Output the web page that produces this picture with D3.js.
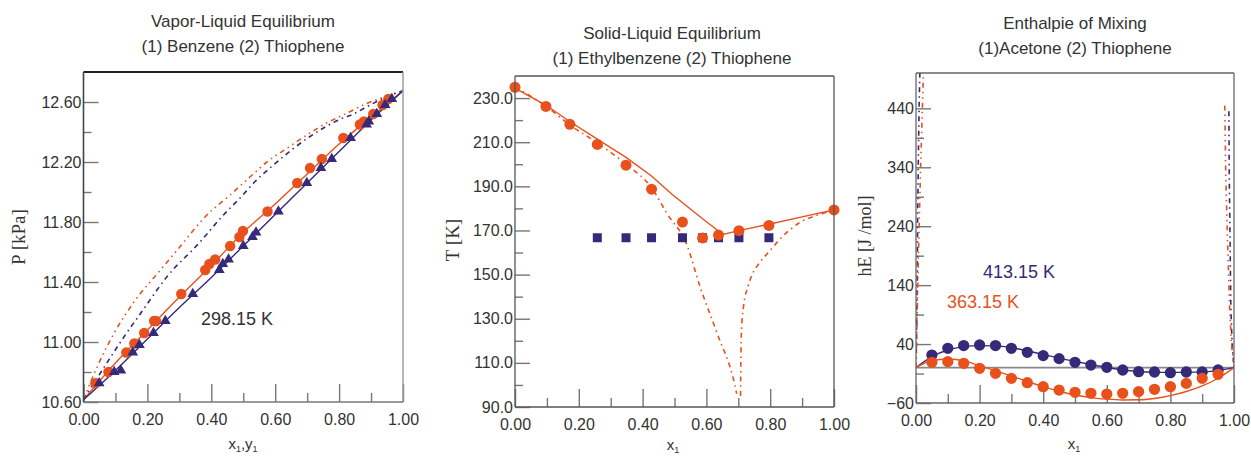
<!DOCTYPE html>
<html>
<head>
    <meta charset="utf-8">
    <title>Thiophene mixtures: VLE, SLE and hE</title>
    <script src="https://d3js.org/d3.v7.min.js"></script>
    <style>
        body { margin: 0; background: #fff; }
        text { font-family: "Liberation Sans", Arial, sans-serif; fill: #333; }
        .serif { font-family: "Liberation Serif", "Times New Roman", serif; }
    </style>
</head>
<body>
    <div id="chart"></div>
    <script>

        var orange = "#e8501c";
        var blue = "#35297a";

        // ---- panel 1: VLE benzene / thiophene at 298.15 K
        var vleX = [0.037, 0.078, 0.134, 0.159, 0.190, 0.221, 0.227, 0.306, 0.381, 0.394, 0.412, 0.459, 0.488, 0.499, 0.576, 0.669, 0.709, 0.746, 0.813, 0.865, 0.878, 0.907, 0.936, 0.954];
        var vleXP = [10.725, 10.80, 10.93, 10.99, 11.06, 11.14, 11.14, 11.32, 11.48, 11.52, 11.55, 11.64, 11.70, 11.74, 11.87, 12.06, 12.16, 12.22, 12.36, 12.45, 12.47, 12.52, 12.58, 12.62];
        var vleY = [0.049, 0.096, 0.117, 0.154, 0.175, 0.219, 0.256, 0.342, 0.425, 0.436, 0.454, 0.500, 0.529, 0.540, 0.610, 0.699, 0.743, 0.777, 0.836, 0.886, 0.893, 0.918, 0.944, 0.965];
        var vleYP = [10.725, 10.80, 10.81, 10.93, 10.98, 11.06, 11.14, 11.32, 11.48, 11.52, 11.55, 11.64, 11.70, 11.73, 11.87, 12.06, 12.16, 12.22, 12.36, 12.45, 12.47, 12.52, 12.58, 12.62];

        var fitGrid = [0, 0.1, 0.2, 0.3, 0.4, 0.5, 0.6, 0.7, 0.8, 0.9, 1];
        var fitXP = [10.615, 10.86, 11.08, 11.30, 11.51, 11.73, 11.92, 12.12, 12.32, 12.50, 12.675];
        var fitYP = [10.615, 10.81, 11.02, 11.23, 11.43, 11.64, 11.85, 12.06, 12.27, 12.48, 12.675];

        var predOrX = [0, 0.044, 0.096, 0.159, 0.237, 0.30, 0.381, 0.464, 0.521, 0.574, 0.636, 0.699, 0.761, 0.824, 0.886, 0.944, 1];
        var predOrP = [10.615, 10.84, 11.06, 11.27, 11.47, 11.63, 11.835, 11.99, 12.10, 12.20, 12.29, 12.38, 12.46, 12.525, 12.59, 12.635, 12.675];
        var predBlX = [0, 0.070, 0.127, 0.185, 0.263, 0.362, 0.438, 0.49, 0.537, 0.589, 0.709, 0.798, 0.845, 0.897, 0.949, 1];
        var predBlP = [10.615, 10.85, 11.035, 11.21, 11.44, 11.66, 11.847, 11.96, 12.07, 12.17, 12.37, 12.48, 12.52, 12.58, 12.635, 12.675];

        // ---- panel 2: SLE ethylbenzene / thiophene
        var sleX = [0, 0.097, 0.172, 0.258, 0.348, 0.428, 0.525, 0.588, 0.638, 0.702, 0.796, 1];
        var sleT = [234.9, 226.2, 218.1, 209, 199.6, 188.7, 173.8, 166.6, 167.9, 169.9, 172.3, 179.3];
        var solidX = [0.258, 0.348, 0.428, 0.525, 0.588, 0.638, 0.702, 0.796];
        var solidT = [166.7, 166.7, 166.7, 166.7, 166.7, 166.7, 166.7, 166.7];

        var liqX = [0, 0.1, 0.17, 0.258, 0.348, 0.428, 0.492, 0.59, 0.652, 0.702, 0.796, 0.903, 1];
        var liqT = [234.5, 226.5, 219.5, 211.4, 203.1, 194.7, 186.4, 175.1, 168.2, 169.9, 172.8, 176.3, 179.3];
        var idealLX = [0, 0.1, 0.17, 0.26, 0.348, 0.43, 0.475, 0.54, 0.579, 0.632, 0.689, 0.695];
        var idealLT = [235, 226, 218, 209.5, 200, 189, 178, 163, 145, 124, 100, 96];
        var idealRX = [0.707, 0.708, 0.710, 0.716, 0.731, 0.745, 0.767, 0.80, 0.825, 0.893, 0.95, 1];
        var idealRT = [95, 110, 125, 135, 145, 150.5, 155.4, 161, 165.2, 173.6, 177, 179.3];

        // ---- panel 3: hE acetone / thiophene
        var hX = [0.05, 0.10, 0.15, 0.20, 0.25, 0.30, 0.35, 0.40, 0.45, 0.50, 0.55, 0.60, 0.65, 0.70, 0.75, 0.80, 0.85, 0.90, 0.95];
        var h413 = [21.4, 32.8, 37.4, 38.4, 37.4, 32.8, 26, 20.4, 15.3, 9, 4.4, 0.5, -4, -6.8, -7.4, -8.5, -7.4, -7.4, -4];
        var h363 = [9, 10.2, 7.3, -1.2, -9.7, -18.2, -25.5, -32.3, -38, -41.9, -43.6, -44.8, -43.6, -40.7, -36.8, -32.3, -26.7, -18.2, -11.4];

        var hFitX = [0, 0.05, 0.1, 0.15, 0.2, 0.25, 0.3, 0.35, 0.4, 0.45, 0.5, 0.55, 0.6, 0.65, 0.7, 0.75, 0.8, 0.85, 0.9, 0.95, 1];
        var hFit413 = [0, 18.7, 29.9, 35.6, 37.4, 37, 34, 28.6, 22.4, 16.2, 10.6, 5.3, 0.2, -4, -6.5, -7.7, -8, -8, -7.2, -5, 0];
        var hFit363 = [0, 12, 14.7, 11.8, 3, -5.2, -14.2, -23.5, -32.2, -40, -46.5, -50.8, -53.5, -54.8, -54.6, -52.3, -47.5, -40.5, -31, -18, 0];

        var spikeBlLX = [0, 0.002, 0.004, 0.005, 0.008, 0.010, 0.0126];
        var spikeBlLV = [0, 60, 150, 250, 380, 450, 510];
        var spikeOrLX = [0, 0.003, 0.006, 0.009, 0.014, 0.020, 0.024];
        var spikeOrLV = [0, 60, 150, 220, 330, 440, 510];
        var spikeBlRX = [0.984, 0.985, 0.987, 0.990, 0.994, 1];
        var spikeBlRV = [435, 330, 245, 104, 40, 0];
        var spikeOrRX = [0.971, 0.974, 0.978, 0.986, 0.992, 1];
        var spikeOrRV = [445, 330, 245, 104, 40, 0];

        // ticks
        var xMajor = [0, 0.2, 0.4, 0.6, 0.8, 1.0];
        var xMinor = [0.1, 0.3, 0.5, 0.7, 0.9];
        var pMajor = [10.6, 11.0, 11.4, 11.8, 12.2, 12.6];
        var pMinor = [10.8, 11.2, 11.6, 12.0, 12.4];
        var tMajor = [90, 110, 130, 150, 170, 190, 210, 230];
        var tMinor = [100, 120, 140, 160, 180, 200, 220];
        var hMajor = [-60, 40, 140, 240, 340, 440];
        var hMinor = [-10, 90, 190, 290, 390];

        var svg = d3.select("#chart")
            .append("svg")
            .attr("width", 1251)
            .attr("height", 458);

        function zip(a, b) {
            return a.map(function(v, i) { return [v, b[i]]; });
        }

        function panel(box, yDomain, yMajor, yMinor, yFmt, id) {
            var x = d3.scaleLinear().domain([0, 1]).range([box.left, box.right]);
            var y = d3.scaleLinear().domain(yDomain).range([box.bottom, box.top]);

            svg.append("clipPath").attr("id", id)
                .append("rect")
                .attr("x", box.left).attr("y", box.top)
                .attr("width", box.right - box.left).attr("height", box.bottom - box.top);

            svg.append("g")
                .attr("transform", "translate(0," + box.bottom + ")")
                .call(d3.axisBottom(x).tickValues(xMajor).tickSize(-18).tickPadding(12).tickFormat(d3.format(".2f")));
            svg.append("g")
                .attr("transform", "translate(0," + box.bottom + ")")
                .call(d3.axisBottom(x).tickValues(xMinor).tickSize(-9).tickFormat(""));
            svg.append("g")
                .attr("transform", "translate(" + box.left + ",0)")
                .call(d3.axisLeft(y).tickValues(yMajor).tickSize(-15).tickPadding(2).tickFormat(d3.format(yFmt)));
            svg.append("g")
                .attr("transform", "translate(" + box.left + ",0)")
                .call(d3.axisLeft(y).tickValues(yMinor).tickSize(-8).tickFormat(""));

            svg.selectAll(".domain").remove();
            svg.selectAll(".tick line").attr("stroke", "#777").attr("stroke-width", 1.4);
            svg.selectAll(".tick text").style("font-size", "16px").attr("fill", "#333");

            var g = svg.append("g").attr("clip-path", "url(#" + id + ")");
            return { x: x, y: y, g: g };
        }

        function frame(box, colors, widths) {
            var sides = [
                [box.left, box.top, box.right, box.top],
                [box.right, box.top, box.right, box.bottom],
                [box.left, box.bottom, box.right, box.bottom],
                [box.left, box.top, box.left, box.bottom]
            ];
            sides.forEach(function(s, i) {
                svg.append("line")
                    .attr("x1", s[0]).attr("y1", s[1]).attr("x2", s[2]).attr("y2", s[3])
                    .attr("stroke", colors[i]).attr("stroke-width", widths[i]);
            });
        }

        function drawLine(p, xs, ys, color, dash, curve) {
            var line = d3.line()
                .x(function(d) { return p.x(d[0]); })
                .y(function(d) { return p.y(d[1]); })
                .curve(curve || d3.curveMonotoneX);
            p.g.append("path")
                .datum(zip(xs, ys))
                .attr("d", line)
                .attr("fill", "none")
                .attr("stroke", color)
                .attr("stroke-width", dash ? 1.6 : 1.4)
                .attr("stroke-dasharray", dash || null);
        }

        function drawMarks(p, xs, ys, color, type, size) {
            svg.append("g").selectAll("path")
                .data(zip(xs, ys))
                .join("path")
                .attr("transform", function(d) { return "translate(" + p.x(d[0]) + "," + p.y(d[1]) + ")"; })
                .attr("d", d3.symbol().type(type).size(size))
                .attr("fill", color);
        }

        function title(cx, y, lines) {
            lines.forEach(function(t, i) {
                svg.append("text")
                    .attr("x", cx).attr("y", y + i * 25)
                    .attr("text-anchor", "middle")
                    .style("font-size", "17px")
                    .text(t);
            });
        }

        function yTitle(x, y, label, size) {
            svg.append("text")
                .attr("class", "serif")
                .attr("transform", "translate(" + x + "," + y + ") rotate(-90)")
                .attr("text-anchor", "middle")
                .style("font-size", size + "px")
                .text(label);
        }

        function xTitle(cx, y, both) {
            var t = svg.append("text")
                .attr("x", cx).attr("y", y)
                .attr("text-anchor", "middle")
                .style("font-size", "15px");
            t.append("tspan").text("x");
            t.append("tspan").attr("dy", 3).style("font-size", "9px").text("1");
            if (both) {
                t.append("tspan").attr("dy", -3).text(",y");
                t.append("tspan").attr("dy", 3).style("font-size", "9px").text("1");
            }
        }

        var dashOr = "5,4,1.5,4,1.5,4";
        var dashBl = "5,4,1.5,4";

        // ---------- panel 1
        var box1 = { left: 83.5, right: 403, top: 72, bottom: 402 };
        var p1 = panel(box1, [10.6, 12.8], pMajor, pMinor, ".2f", "c1");
        drawLine(p1, predOrX, predOrP, orange, dashOr);
        drawLine(p1, predBlX, predBlP, blue, dashBl);
        drawLine(p1, fitGrid, fitXP, orange);
        drawLine(p1, fitGrid, fitYP, blue);
        drawMarks(p1, vleX, vleXP, orange, d3.symbolCircle, 85);
        drawMarks(p1, vleY, vleYP, blue, d3.symbolTriangle, 50);
        frame(box1, ["#222", "#999", "#777", "#444"], [2.2, 1.4, 1.4, 1.6]);
        title(243, 27, ["Vapor-Liquid Equilibrium", "(1) Benzene (2) Thiophene"]);
        yTitle(25, 237, "P [kPa]", 19);
        xTitle(243, 449, true);
        svg.append("text").attr("x", 237).attr("y", 325).attr("text-anchor", "middle")
            .style("font-size", "18px").text("298.15 K");

        // ---------- panel 2
        var box2 = { left: 515, right: 834, top: 76, bottom: 407 };
        var p2 = panel(box2, [90, 240], tMajor, tMinor, ".1f", "c2");
        drawLine(p2, idealLX, idealLT, orange, dashBl);
        drawLine(p2, idealRX, idealRT, orange, dashBl);
        drawLine(p2, liqX, liqT, orange, null, d3.curveLinear);
        drawMarks(p2, solidX, solidT, blue, d3.symbolSquare, 81);
        drawMarks(p2, sleX, sleT, orange, d3.symbolCircle, 95);
        frame(box2, ["#555", "#555", "#555", "#555"], [1.3, 1.3, 1.3, 1.3]);
        title(672, 39, ["Solid-Liquid Equilibrium", "(1) Ethylbenzene (2) Thiophene"]);
        yTitle(459, 240, "T [K]", 19);
        xTitle(673, 450, false);

        // ---------- panel 3
        var box3 = { left: 916, right: 1234, top: 73, bottom: 403 };
        var p3 = panel(box3, [-60, 500], hMajor, hMinor, "d", "c3");
        p3.g.append("line")
            .attr("x1", box3.left).attr("x2", box3.right)
            .attr("y1", p3.y(0)).attr("y2", p3.y(0))
            .attr("stroke", "#888").attr("stroke-width", 1.6);
        drawLine(p3, spikeBlLX, spikeBlLV, blue, dashBl, d3.curveLinear);
        drawLine(p3, spikeOrLX, spikeOrLV, orange, dashOr, d3.curveLinear);
        drawLine(p3, spikeBlRX, spikeBlRV, blue, dashBl, d3.curveLinear);
        drawLine(p3, spikeOrRX, spikeOrRV, orange, dashOr, d3.curveLinear);
        drawLine(p3, hFitX, hFit413, blue);
        drawLine(p3, hFitX, hFit363, orange);
        drawMarks(p3, hX, h413, blue, d3.symbolCircle, 100);
        drawMarks(p3, hX, h363, orange, d3.symbolCircle, 100);
        frame(box3, ["#666", "#666", "#666", "#666"], [1.3, 1.3, 1.3, 1.3]);
        title(1075, 29, ["Enthalpie of Mixing", "(1)Acetone (2) Thiophene"]);
        yTitle(871, 236, "hE [J /mol]", 18);
        xTitle(1074, 449, false);
        svg.append("text").attr("x", 1019).attr("y", 278).attr("text-anchor", "middle")
            .style("font-size", "18px").style("fill", blue).text("413.15 K");
        svg.append("text").attr("x", 983).attr("y", 308).attr("text-anchor", "middle")
            .style("font-size", "18px").style("fill", orange).text("363.15 K");

    </script>
</body>
</html>
